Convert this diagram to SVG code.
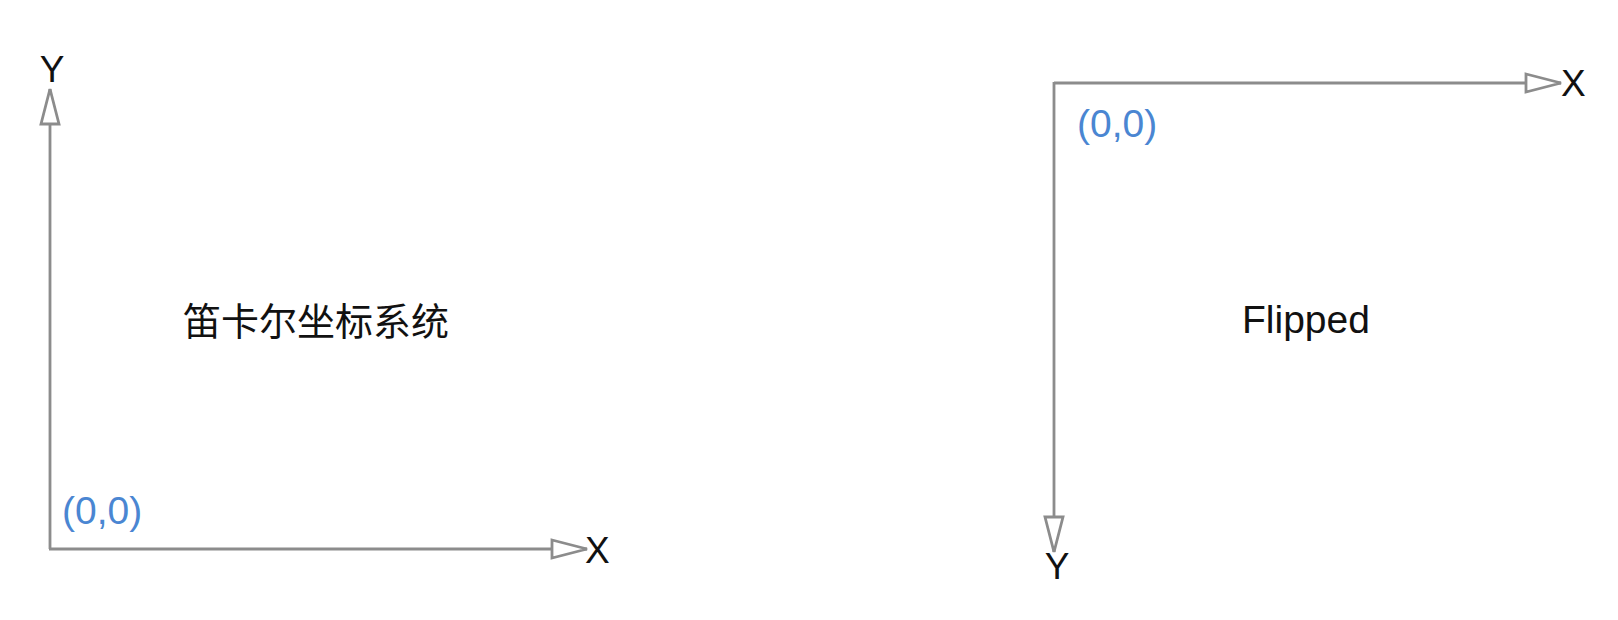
<svg xmlns="http://www.w3.org/2000/svg" width="1618" height="620" viewBox="0 0 1618 620">
  <style>
    .axis { stroke: #8c8c8c; stroke-width: 2.8; fill: none; }
    .lbl { font-family: "Liberation Sans", Arial, sans-serif; font-size: 37px; fill: #111; }
    .origin { font-family: "Liberation Sans", Arial, sans-serif; font-size: 39px; fill: #4a86d2; }
    .title { font-family: "Liberation Sans", "Noto Sans CJK SC", sans-serif; fill: #111; }
  </style>
  <defs>
    <marker id="open-arrow" viewBox="0 0 40 24" refX="37" refY="12" markerWidth="40" markerHeight="24" markerUnits="userSpaceOnUse" orient="auto">
      <path d="M2,3 L37,12 L2,21 Z" fill="#fff" stroke="#8c8c8c" stroke-width="2.8" stroke-linejoin="miter"/>
    </marker>
  </defs>

  <rect width="1618" height="620" fill="#fff"/>

  <!-- connectors: the axes of both coordinate systems -->
  <g id="connectors">
    <path class="axis" d="M50,549 L50,89" marker-end="url(#open-arrow)"/>
    <path class="axis" d="M49,549 L587,549" marker-end="url(#open-arrow)"/>
    <path class="axis" d="M1054,83 L1561,83" marker-end="url(#open-arrow)"/>
    <path class="axis" d="M1054,82 L1054,552" marker-end="url(#open-arrow)"/>
  </g>

  <!-- Cartesian system -->
  <g id="cartesian">
    <text class="lbl" x="52" y="82" text-anchor="middle">Y</text>
    <text class="lbl" x="585" y="563">X</text>
    <text class="origin" x="62" y="524">(0,0)</text>
    <text class="title" x="183" y="335" font-size="38">笛卡尔坐标系统</text>
  </g>

  <!-- Flipped system -->
  <g id="flipped">
    <text class="lbl" x="1561" y="96">X</text>
    <text class="lbl" x="1057" y="579" text-anchor="middle">Y</text>
    <text class="origin" x="1077" y="137">(0,0)</text>
    <text class="title" x="1242" y="333" font-size="39">Flipped</text>
  </g>
</svg>
